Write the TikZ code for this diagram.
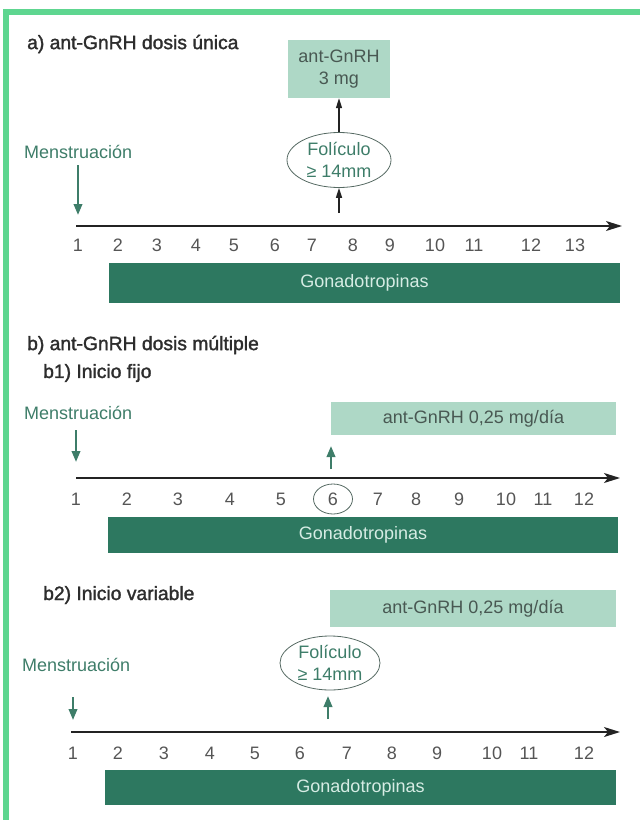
\documentclass[tikz,border=0pt]{standalone}
\usepackage{fontspec}
\setmainfont{Liberation Sans}
\newfontfamily\semib[FakeBold=1.6]{Liberation Sans}
\usetikzlibrary{shapes.geometric,arrows.meta}
\definecolor{framec}{RGB}{94,214,144}
\definecolor{lightbox}{RGB}{174,216,198}
\definecolor{boxtext}{RGB}{72,88,82}
\definecolor{darkbar}{RGB}{45,120,96}
\definecolor{bartext}{RGB}{214,236,228}
\definecolor{tealc}{RGB}{62,125,105}
\definecolor{numc}{RGB}{85,85,85}
\definecolor{titlec}{RGB}{45,45,45}
\definecolor{ellc}{RGB}{85,105,98}
\definecolor{axisc}{RGB}{35,35,35}
\begin{document}
\begin{tikzpicture}[x=1bp,y=-1bp,
  every node/.style={font=\fontsize{18bp}{22bp}\selectfont, inner sep=0pt},
  ttl/.style={font=\semib\fontsize{19.3bp}{22bp}\selectfont, text=titlec, anchor=west},
  num/.style={text=numc},
  mens/.style={text=tealc, anchor=west},
  dose/.style={fill=lightbox, text=boxtext, align=center},
  bar/.style={fill=darkbar, text=bartext},
  foll/.style={ellipse, draw=ellc, line width=0.8bp, text=tealc, align=center,
    font=\fontsize{18bp}{22bp}\selectfont},
  axisline/.style={draw=axisc, line width=1.6bp, -{Stealth[length=16bp,width=10bp,inset=4bp]}},
  garrow/.style={draw=tealc, line width=2.2bp, -{Triangle[length=11bp,width=8.5bp]}},
  karrow/.style={draw=axisc, line width=1.4bp, -{Triangle[length=10bp,width=6bp]}},
  ring/.style={ellipse, draw=ellc, line width=0.8bp, minimum width=39bp, minimum height=30bp}
]
\useasboundingbox (0,0) rectangle (640,820);
% frame
\fill[framec] (3,9) rectangle (640,15);
\fill[framec] (3,9) rectangle (9,820);

% ---------- a) ----------
\node[ttl] (ta) at (27,44) {a) ant-GnRH dosis única};
\node[dose, minimum width=102bp, minimum height=58bp] (doseA) at (339,69) {ant-GnRH\\3 mg};
\node[foll, minimum width=104bp, minimum height=55bp] (follA) at (339,160) {Folículo\\≥ 14mm};
\node[mens] (mensA) at (24,152) {Menstruación};
\coordinate (gA1) at (78,165);
\coordinate (gA2) at (78,215);
\draw[garrow] (gA1) -- (gA2);
\draw[karrow] (follA.north) -- (doseA.south);
\coordinate (kA) at (339,213);
\draw[karrow] (kA) -- (follA.south);
\coordinate (axA1) at (76,226);
\coordinate (axA2) at (622,226);
\draw[axisline] (axA1) -- (axA2);
\foreach \n/\x in {1/78,2/118,3/157,4/196,5/234,6/275,7/312,8/353,9/390,10/435,11/474,12/531,13/575}
  \node[num] (na\n) at (\x,245) {\n};
\node[bar, minimum width=511bp, minimum height=40bp] (barA) at (364.5,283) {Gonadotropinas};

% ---------- b) ----------
\node[ttl] (tb) at (27,345) {b) ant-GnRH dosis múltiple};
\node[ttl] (tb1) at (43,373) {b1) Inicio fijo};
\node[mens] (mensB1) at (24,413) {Menstruación};
\node[dose, minimum width=285bp, minimum height=33bp] (doseB1) at (473.5,418.5) {ant-GnRH 0,25 mg/día};
\coordinate (gB1a) at (76,430);
\coordinate (gB1b) at (76,462);
\draw[garrow] (gB1a) -- (gB1b);
\coordinate (gB1c) at (331,469);
\coordinate (gB1d) at (331,446);
\draw[garrow] (gB1c) -- (gB1d);
\coordinate (axB1a) at (76,478);
\coordinate (axB1b) at (620,478);
\draw[axisline] (axB1a) -- (axB1b);
\foreach \n/\x in {1/76,2/127,3/178,4/230,5/281,6/333,7/378,8/416,9/459,10/506,11/543,12/584}
  \node[num] (nb\n) at (\x,499) {\n};
\node[ring] (ringB1) at (nb6) {};
\node[bar, minimum width=510bp, minimum height=36bp] (barB1) at (363,535) {Gonadotropinas};

% ---------- b2) ----------
\node[ttl] (tb2) at (43,595) {b2) Inicio variable};
\node[dose, minimum width=286bp, minimum height=37bp] (doseB2) at (473,608.5) {ant-GnRH 0,25 mg/día};
\node[foll, minimum width=100bp, minimum height=54bp] (follB2) at (330,663) {Folículo\\≥ 14mm};
\node[mens] (mensB2) at (22,665) {Menstruación};
\coordinate (gB2a) at (73,697);
\coordinate (gB2b) at (73,720);
\draw[garrow] (gB2a) -- (gB2b);
\coordinate (gB2c) at (328,719);
\coordinate (gB2d) at (328,696);
\draw[garrow] (gB2c) -- (gB2d);
\coordinate (axB2a) at (71,732);
\coordinate (axB2b) at (620,732);
\draw[axisline] (axB2a) -- (axB2b);
\foreach \n/\x in {1/73,2/118,3/164,4/210,5/255,6/300,7/347,8/392,9/437,10/492,11/529,12/584}
  \node[num] (nc\n) at (\x,753) {\n};
\node[bar, minimum width=511bp, minimum height=35bp] (barB2) at (360.5,787.5) {Gonadotropinas};
\end{tikzpicture}
\end{document}
